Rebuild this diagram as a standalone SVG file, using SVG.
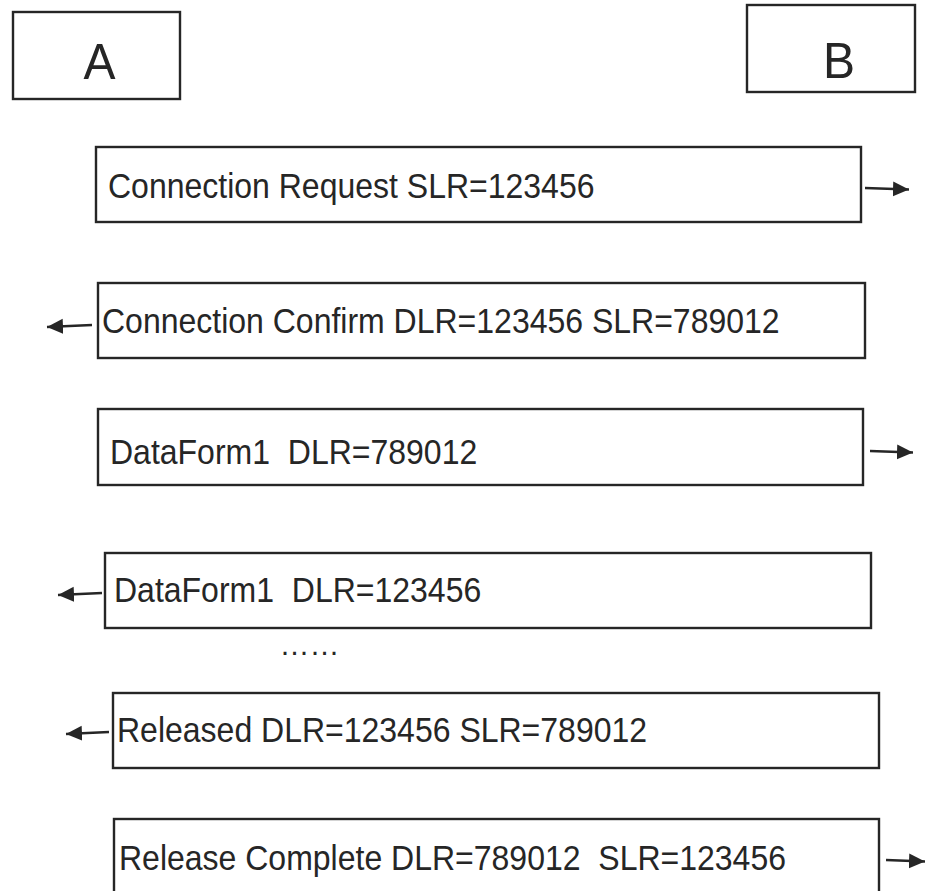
<svg xmlns="http://www.w3.org/2000/svg" width="925" height="891" viewBox="0 0 925 891">
<defs>
<style>
.box{fill:#fff;stroke:#262626;stroke-width:2.4}
.lbl{font-family:"Liberation Sans",Arial,sans-serif;font-size:32px;fill:#262626;white-space:pre}
.big{font-family:"Liberation Sans",Arial,sans-serif;font-size:48px;fill:#262626;text-anchor:middle}
.conn{stroke:#262626;stroke-width:2.4;fill:none;marker-end:url(#ah)}
</style>
<marker id="ah" markerUnits="userSpaceOnUse" markerWidth="18" markerHeight="16" refX="16" refY="7.5" orient="auto">
<path d="M0,0 L16,7.5 L0,15 Z" fill="#262626"/>
</marker>
</defs>
<rect width="925" height="891" fill="#fff"/>
<g id="nodeA"><rect class="box" x="13" y="12" width="167" height="87"/><text class="big" transform="translate(99.5,79) scale(1,1.06)">A</text></g>
<g id="nodeB"><rect class="box" x="747" y="5" width="168" height="87"/><text class="big" transform="translate(839,78) scale(1,1.06)">B</text></g>
<g id="msg1"><rect class="box" x="96" y="147" width="765" height="75"/><text class="lbl" transform="translate(108,198) scale(1,1.08)">Connection Request SLR=123456</text></g>
<g id="msg2"><rect class="box" x="98" y="283" width="767" height="75"/><text class="lbl" transform="translate(102,333) scale(1,1.08)">Connection Confirm DLR=123456 SLR=789012</text></g>
<g id="msg3"><rect class="box" x="98" y="409" width="765" height="76"/><text class="lbl" xml:space="preserve" transform="translate(110,464) scale(1,1.08)">DataForm1  DLR=789012</text></g>
<g id="msg4"><rect class="box" x="105" y="553" width="766" height="75"/><text class="lbl" xml:space="preserve" transform="translate(114,602) scale(1,1.08)">DataForm1  DLR=123456</text></g>
<g id="dots"><text class="lbl" style="font-size:30px" x="279.5" y="655">……</text></g>
<g id="msg5"><rect class="box" x="113" y="693" width="766" height="75"/><text class="lbl" transform="translate(117,742) scale(1,1.08)">Released DLR=123456 SLR=789012</text></g>
<g id="msg6"><rect class="box" x="114" y="819" width="765" height="80"/><text class="lbl" xml:space="preserve" transform="translate(119,870) scale(1,1.08)">Release Complete DLR=789012  SLR=123456</text></g>
<g id="connectors">
<line class="conn" x1="865" y1="188" x2="909" y2="189.5"/>
<line class="conn" x1="92" y1="325" x2="47" y2="327"/>
<line class="conn" x1="870" y1="451" x2="913" y2="452.5"/>
<line class="conn" x1="102" y1="593" x2="58" y2="595"/>
<line class="conn" x1="109" y1="732" x2="66" y2="734"/>
<line class="conn" x1="886" y1="860" x2="925" y2="861.5"/>
</g>
</svg>
